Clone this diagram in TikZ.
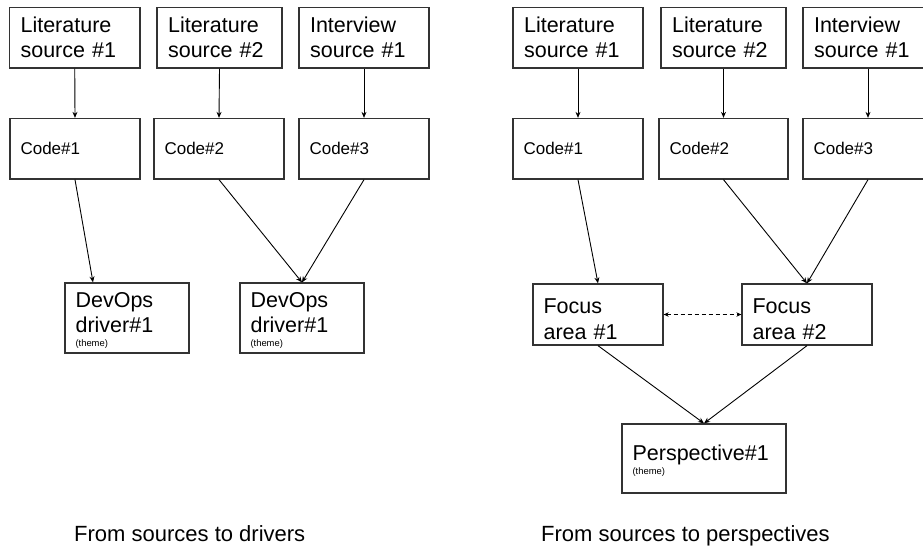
\documentclass[tikz,border=0pt]{standalone}
\usepackage{fontspec}
\setmainfont{Liberation Sans}
\usetikzlibrary{arrows.meta,calc}
\begin{document}
\begin{tikzpicture}[x=1pt,y=-1pt,
  box/.style={draw=black!80, line width=1.3pt, rectangle, inner sep=0pt, minimum height=60.5pt, minimum width=130pt},
  big/.style={font=\fontsize{21.5}{25.5}\selectfont, anchor=base west, inner sep=0pt, text width=150pt, align=left},
  small/.style={font=\fontsize{17}{20}\selectfont, anchor=base west, inner sep=0pt},
  captext/.style={font=\fontsize{22}{26}\selectfont, anchor=base west, inner sep=0pt},
  conn/.style={draw=black, line width=0.9pt, -{Stealth[length=6pt,width=5pt]}},
  dconn/.style={draw=black, line width=0.9pt, dash pattern=on 4pt off 3pt, {Stealth[length=5pt,width=4.5pt]}-{Stealth[length=5pt,width=4.5pt]}},
]
\useasboundingbox (0,0) rectangle (923,547);
\clip (0,0) rectangle (923,547);

% ---------- left diagram ----------
\node[box, minimum width=130.5pt] (ls1) at (74.75,37.75) {};
\node[box, minimum width=125pt] (ls2) at (219.5,37.75) {};
\node[box] (is1) at (364,37.75) {};
\node[box] (c1) at (75,148.75) {};
\node[box] (c2) at (219,148.75) {};
\node[box] (c3) at (364,148.75) {};
\node[box, minimum width=124pt, minimum height=70pt] (d1) at (127,318) {};
\node[box, minimum width=124pt, minimum height=70pt] (d2) at (302,318) {};

\node[big] (ls1t) at ($(ls1.north west)+(11.5,25.5)$) {Literature\\source \#1};
\node[big] (ls2t) at ($(ls2.north west)+(11.5,25.5)$) {Literature\\source \#2};
\node[big] (is1t) at ($(is1.north west)+(11.5,25.5)$) {Interview\\source \#1};
\node[small] (c1t) at ($(c1.north west)+(11,36.5)$) {Code\#1};
\node[small] (c2t) at ($(c2.north west)+(11,36.5)$) {Code\#2};
\node[small] (c3t) at ($(c3.north west)+(11,36.5)$) {Code\#3};
\node[big] (d1t) at ($(d1.north west)+(11,25)$) {DevOps\\driver\#1\\[-12.3pt]{\fontsize{9.4}{11}\selectfont(theme)}};
\node[big] (d2t) at ($(d2.north west)+(11,25)$) {DevOps\\driver\#1\\[-12.3pt]{\fontsize{9.4}{11}\selectfont(theme)}};

\draw[conn] (ls1.south) -- (c1.north);
\draw[conn] (ls2.south) -- (c2.north);
\draw[conn] (is1.south) -- (c3.north);
\draw[conn] (c1.south) -- ($(d1.north)+(-34,0)$);
\draw[conn] (c2.south) -- (d2.north);
\draw[conn] (c3.south) -- (d2.north);

% ---------- right diagram ----------
\node[box] (rls1) at (578,37.75) {};
\node[box, minimum width=125pt] (rls2) at (723.5,37.75) {};
\node[box] (ris1) at (868,37.75) {};
\node[box] (rc1) at (578,148.75) {};
\node[box, minimum width=129pt] (rc2) at (723.5,148.75) {};
\node[box] (rc3) at (868,148.75) {};
\node[box, minimum height=61pt] (f1) at (598,314.5) {};
\node[box, minimum height=61pt] (f2) at (807,314.5) {};
\node[box, minimum width=164pt, minimum height=69pt] (p1) at (704,458.5) {};

\node[big] (rls1t) at ($(rls1.north west)+(11.5,25.5)$) {Literature\\source \#1};
\node[big] (rls2t) at ($(rls2.north west)+(11.5,25.5)$) {Literature\\source \#2};
\node[big] (ris1t) at ($(ris1.north west)+(11.5,25.5)$) {Interview\\source \#1};
\node[small] (rc1t) at ($(rc1.north west)+(11,36.5)$) {Code\#1};
\node[small] (rc2t) at ($(rc2.north west)+(11,36.5)$) {Code\#2};
\node[small] (rc3t) at ($(rc3.north west)+(11,36.5)$) {Code\#3};
\node[big] (f1t) at ($(f1.north west)+(11,30.3)$) {Focus\\area \#1};
\node[big] (f2t) at ($(f2.north west)+(11,30.3)$) {Focus\\area \#2};
\node[big] (p1t) at ($(p1.north west)+(11,37)$) {Perspective\#1\\[-11.5pt]{\fontsize{9.4}{11}\selectfont(theme)}};

\draw[conn] (rls1.south) -- (rc1.north);
\draw[conn] (rls2.south) -- (rc2.north);
\draw[conn] (ris1.south) -- (rc3.north);
\draw[conn] (rc1.south) -- (f1.north);
\draw[conn] (rc2.south) -- (f2.north);
\draw[conn] (rc3.south) -- (f2.north);
\draw[conn] (f1.south) -- (p1.north);
\draw[conn] (f2.south) -- (p1.north);
\draw[dconn] (f1.east) -- (f2.west);

% ---------- captions ----------
\node[captext] (cap1) at (74,541) {From sources to drivers};
\node[captext] (cap2) at (541,541) {From sources to perspectives};
\end{tikzpicture}
\end{document}
